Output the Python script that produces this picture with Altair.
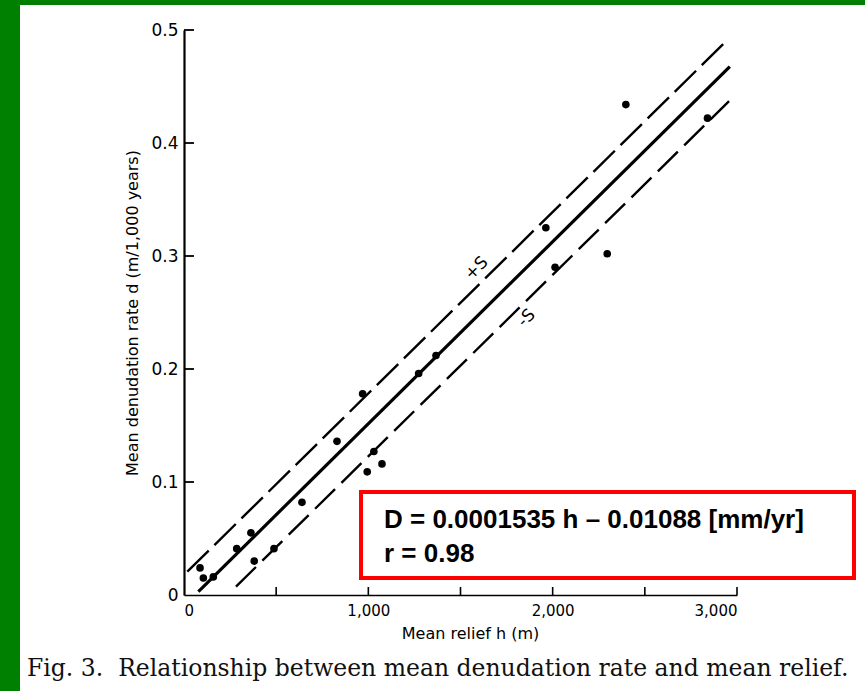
import altair as alt
import pandas as pd

# Mean relief h (m) and mean denudation rate d (m/1,000 years) of each basin
relief_m = [87, 105, 159, 286, 363, 381, 488, 640, 830, 969,
            994, 1030, 1074, 1273, 1367, 1963, 2013, 2296, 2397, 2840]
denudation = [0.024, 0.015, 0.016, 0.041, 0.055, 0.030, 0.041, 0.082, 0.136, 0.178,
              0.109, 0.127, 0.116, 0.196, 0.212, 0.325, 0.290, 0.302, 0.434, 0.422]

# Regression line and the +S / -S band, given by their end points
fit_h = [78, 2961]
fit_d = [0.003, 0.4675]
upper_h = [18, 2934]
upper_d = [0.0206, 0.489]
lower_h = [282, 2957]
lower_d = [0.0074, 0.437]

band_labels = ["+S", "-S"]
band_label_h = [1587, 1858]
band_label_d = [0.289, 0.245]

x_tick_values = [500, 1000, 1500, 2000, 2500, 3000]
y_tick_values = [0.1, 0.2, 0.3, 0.4, 0.5]
x_label_values = [0, 1000, 2000, 3000]
y_label_values = [0, 0.1, 0.2, 0.3, 0.4, 0.5]

equation_lines = ["D = 0.0001535 h \u2013 0.01088 [mm/yr]", "r = 0.98"]
caption = "Fig. 3.\u00a0\u00a0Relationship between mean denudation rate and mean relief."

W, H = 553, 565
PAD_L, PAD_T = 184, 30
PAGE_W, PAGE_H = 865, 691

x_scale = alt.Scale(domain=[0, 3000], nice=False, zero=False)
y_scale = alt.Scale(domain=[0, 0.5], nice=False, zero=False)

points_df = pd.DataFrame({"h": relief_m, "d": denudation})
fit_df = pd.DataFrame({"h": fit_h, "d": fit_d})
upper_df = pd.DataFrame({"h": upper_h, "d": upper_d})
lower_df = pd.DataFrame({"h": lower_h, "d": lower_d})
band_df = pd.DataFrame({"h": band_label_h, "d": band_label_d, "label": band_labels})
xt_df = pd.DataFrame({"h": x_tick_values})
yt_df = pd.DataFrame({"d": y_tick_values})
one = pd.DataFrame({"k": [0]})

AX_FONT = "DejaVu Sans"

x_axis = alt.Axis(
    values=x_label_values, ticks=False, grid=False,
    labelExpr="format(datum.value, ',')",
    domainColor="black", domainWidth=1.6,
    labelFont=AX_FONT, labelFontSize=15, labelColor="black", labelPadding=8,
    title="Mean relief h (m)", titleFont=AX_FONT, titleFontSize=16,
    titleFontWeight="normal", titleColor="black", titlePadding=7, titleX=286)
y_axis = alt.Axis(
    values=y_label_values, ticks=False, grid=False,
    labelExpr="datum.value == 0 ? '0' : format(datum.value, '.1f')",
    domainColor="black", domainWidth=2.2,
    labelFont=AX_FONT, labelFontSize=17, labelColor="black", labelPadding=6,
    title="Mean denudation rate d (m/1,000 years)", titleFont=AX_FONT,
    titleFontSize=16, titleFontWeight="normal", titleColor="black",
    titlePadding=10)


def hx():
    return alt.X("h:Q", scale=x_scale, axis=x_axis)


def dy():
    return alt.Y("d:Q", scale=y_scale, axis=y_axis)


points = alt.Chart(points_df).mark_circle(size=58, color="black", opacity=1).encode(
    x=hx(), y=dy())

fit_line = alt.Chart(fit_df).mark_line(color="black", strokeWidth=3.2, strokeCap="butt").encode(
    x=hx(), y=dy())
upper_line = alt.Chart(upper_df).mark_line(color="black", strokeWidth=2.4, strokeDash=[30, 8]).encode(
    x=hx(), y=dy())
lower_line = alt.Chart(lower_df).mark_line(color="black", strokeWidth=2.4, strokeDash=[28, 9]).encode(
    x=hx(), y=dy())
band_text = alt.Chart(band_df).mark_text(
    angle=315, font=AX_FONT, fontSize=17, color="black", align="center", baseline="middle"
).encode(x=hx(), y=dy(), text="label:N")

# inward-pointing tick marks on both axes
x_ticks = alt.Chart(xt_df).mark_rule(color="black", strokeWidth=1.6).encode(
    x=hx(), y=alt.value(H), y2=alt.value(H - 8))
y_ticks = alt.Chart(yt_df).mark_rule(color="black", strokeWidth=1.8).encode(
    y=dy(), x=alt.value(0), x2=alt.value(10))

# slide frame: green strips on the left and top edges
green_left = alt.Chart(one).mark_rect(color="#008000").encode(
    x=alt.value(-PAD_L), x2=alt.value(-PAD_L + 20),
    y=alt.value(-PAD_T), y2=alt.value(PAGE_H - PAD_T),
)
green_top = alt.Chart(one).mark_rect(color="#008000").encode(
    x=alt.value(-PAD_L), x2=alt.value(PAGE_W - PAD_L),
    y=alt.value(-PAD_T), y2=alt.value(-PAD_T + 5),
)

# regression equation in a red box
eq_box = alt.Chart(one).mark_rect(fill="white", stroke="#ff0000", strokeWidth=4).encode(
    x=alt.value(177), x2=alt.value(670),
    y=alt.value(462), y2=alt.value(548),
)
eq_text = alt.Chart(one).mark_text(
    text=equation_lines, font="Liberation Sans", fontWeight="bold", fontSize=26,
    lineHeight=34, align="left", baseline="alphabetic", color="black",
).encode(x=alt.value(200), y=alt.value(498))

caption_text = alt.Chart(one).mark_text(
    text=caption, font="DejaVu Serif", fontSize=23.5, align="left",
    baseline="alphabetic", color="#111111",
).encode(x=alt.value(27 - PAD_L), y=alt.value(676 - PAD_T))

chart = alt.layer(
    green_left, green_top, eq_box,
    fit_line, upper_line, lower_line, band_text,
    points, x_ticks, y_ticks,
    eq_text, caption_text,
).properties(
    width=W, height=H,
    padding={"left": PAD_L, "top": PAD_T, "right": PAGE_W - PAD_L - W, "bottom": PAGE_H - PAD_T - H},
    autosize=alt.AutoSizeParams(type="none"),
    background="white",
).configure_view(stroke=None)

chart.save("out.html", embed_options={"renderer": "svg", "actions": False})
